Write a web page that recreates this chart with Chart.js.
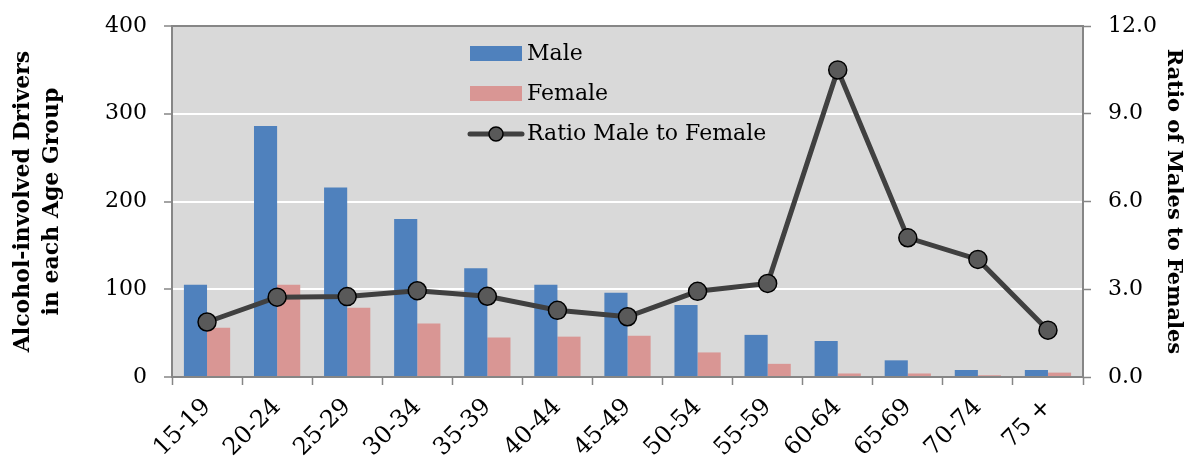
<!DOCTYPE html>
<html>
<head>
<meta charset="utf-8">
<script src="https://cdn.jsdelivr.net/npm/chart.js@4.4.0/dist/chart.umd.min.js"></script>
<style>
  html, body { margin: 0; padding: 0; background: #fff; }
  #wrap { width: 1193px; height: 461px; }
</style>
</head>
<body>
<div id="wrap"><canvas id="driversChart" width="1193" height="461"></canvas></div>
<script>
// --- DATA ---
const ageGroups = ['15-19', '20-24', '25-29', '30-34', '35-39', '40-44', '45-49',
                   '50-54', '55-59', '60-64', '65-69', '70-74', '75 +'];
const maleDrivers = [105, 286, 216, 180, 124, 105, 96, 82, 48, 41, 19, 8, 8];
const femaleDrivers = [56, 105, 79, 61, 45, 46, 47, 28, 15, 4, 4, 2, 5];
const ratioMaleFemale = [1.88, 2.73, 2.75, 2.95, 2.76, 2.28, 2.06, 2.93, 3.2, 10.5, 4.76, 4.02, 1.6];
const leftAxisMax = 400, leftAxisStep = 100;
const rightAxisMax = 12, rightAxisStep = 3;

// --- STYLE ---
const FONT = "'DejaVu Serif', serif";
const AXIS_GRAY = '#868686';
const PLOT_BG = '#D9D9D9';

// plot background
const plotBg = {
    id: 'plotBg',
    beforeDraw(chart) {
        const { ctx, chartArea: a } = chart;
        ctx.save();
        ctx.fillStyle = PLOT_BG;
        ctx.fillRect(a.left, a.top, a.right - a.left, a.bottom - a.top);
        ctx.restore();
    }
};

// legend drawn inside the plot area
const insideLegend = {
    id: 'insideLegend',
    afterDatasetsDraw(chart) {
        const { ctx, chartArea: a } = chart;
        const ds = chart.data.datasets;
        const sx = a.left + 298, sw = 52, tx = a.left + 355;
        const rows = [a.top + 28, a.top + 68, a.top + 108];
        ctx.save();
        ctx.font = '22px ' + FONT;
        ctx.textBaseline = 'middle';
        // bars
        [1, 2].forEach((di, i) => {
            ctx.fillStyle = ds[di].backgroundColor;
            ctx.fillRect(sx, rows[i] - 8, sw, 15);
            ctx.fillStyle = '#000';
            ctx.fillText(ds[di].label, tx, rows[i]);
        });
        // line
        const line = ds[0];
        ctx.strokeStyle = line.borderColor;
        ctx.lineWidth = 5;
        ctx.lineCap = 'round';
        ctx.beginPath();
        ctx.moveTo(sx, rows[2]);
        ctx.lineTo(sx + sw, rows[2]);
        ctx.stroke();
        ctx.beginPath();
        ctx.arc(sx + sw / 2, rows[2], 7, 0, Math.PI * 2);
        ctx.fillStyle = line.pointBackgroundColor;
        ctx.fill();
        ctx.lineWidth = 1.5;
        ctx.strokeStyle = line.pointBorderColor;
        ctx.stroke();
        ctx.fillStyle = '#000';
        ctx.fillText(line.label, tx, rows[2]);
        ctx.restore();
    }
};

// fixed axis boxes so the plot area lands where the original has it
function fixWidth(w) {
    return s => { s.width = w; s.paddingTop = 0; s.paddingBottom = 0; };
}

new Chart(document.getElementById('driversChart'), {
    type: 'bar',
    data: {
        labels: ageGroups,
        datasets: [
            {
                type: 'line',
                label: 'Ratio Male to Female',
                data: ratioMaleFemale,
                yAxisID: 'y1',
                borderColor: '#404040',
                borderWidth: 5,
                pointRadius: 9,
                pointBackgroundColor: '#595959',
                pointBorderColor: '#000',
                pointBorderWidth: 1.5,
                tension: 0,
                order: 0
            },
            {
                label: 'Male',
                data: maleDrivers,
                backgroundColor: '#4F81BD',
                yAxisID: 'y',
                order: 1
            },
            {
                label: 'Female',
                data: femaleDrivers,
                backgroundColor: '#D99694',
                yAxisID: 'y',
                order: 1
            }
        ]
    },
    options: {
        responsive: false,
        animation: false,
        layout: { padding: { top: 26, left: 0, right: 0, bottom: 0 } },
        datasets: { bar: { barPercentage: 1, categoryPercentage: 0.66 } },
        plugins: { legend: { display: false }, tooltip: { enabled: false } },
        scales: {
            x: {
                afterFit(s) { s.height = 84; },
                grid: { offset: true, drawOnChartArea: false, tickLength: 8, tickColor: AXIS_GRAY, tickWidth: 1.5 },
                border: { color: AXIS_GRAY, width: 2 },
                ticks: { font: { family: FONT, size: 24 }, color: '#000', maxRotation: 45, minRotation: 45, padding: 8 }
            },
            y: {
                position: 'left',
                min: 0, max: leftAxisMax,
                afterFit: fixWidth(172),
                grid: {
                    color: c => (c.tick && c.tick.value === leftAxisMax) ? AXIS_GRAY : '#fff',
                    lineWidth: 2, tickLength: 8, tickColor: AXIS_GRAY, tickWidth: 1.5
                },
                border: { color: AXIS_GRAY, width: 2 },
                ticks: { stepSize: leftAxisStep, font: { family: FONT, size: 22 }, color: '#000', padding: 17 },
                title: {
                    display: true,
                    text: ['Alcohol-involved Drivers', 'in each Age Group'],
                    font: { family: FONT, size: 22, weight: 'bold', lineHeight: 1.3 },
                    color: '#000',
                    padding: { top: 9, bottom: 0 }
                }
            },
            y1: {
                position: 'right',
                min: 0, max: rightAxisMax,
                afterFit: fixWidth(110),
                grid: { drawOnChartArea: false, tickLength: 8, tickColor: AXIS_GRAY, tickWidth: 1.5 },
                border: { color: AXIS_GRAY, width: 2 },
                ticks: {
                    stepSize: rightAxisStep, font: { family: FONT, size: 22 }, color: '#000', padding: 17,
                    callback: v => v.toFixed(1)
                },
                title: {
                    display: true,
                    text: 'Ratio of Males to Females',
                    font: { family: FONT, size: 21, weight: 'bold', lineHeight: 1.2 },
                    color: '#000',
                    padding: { top: 7, bottom: 0 }
                }
            }
        }
    },
    plugins: [plotBg, insideLegend]
});
</script>
</body>
</html>
